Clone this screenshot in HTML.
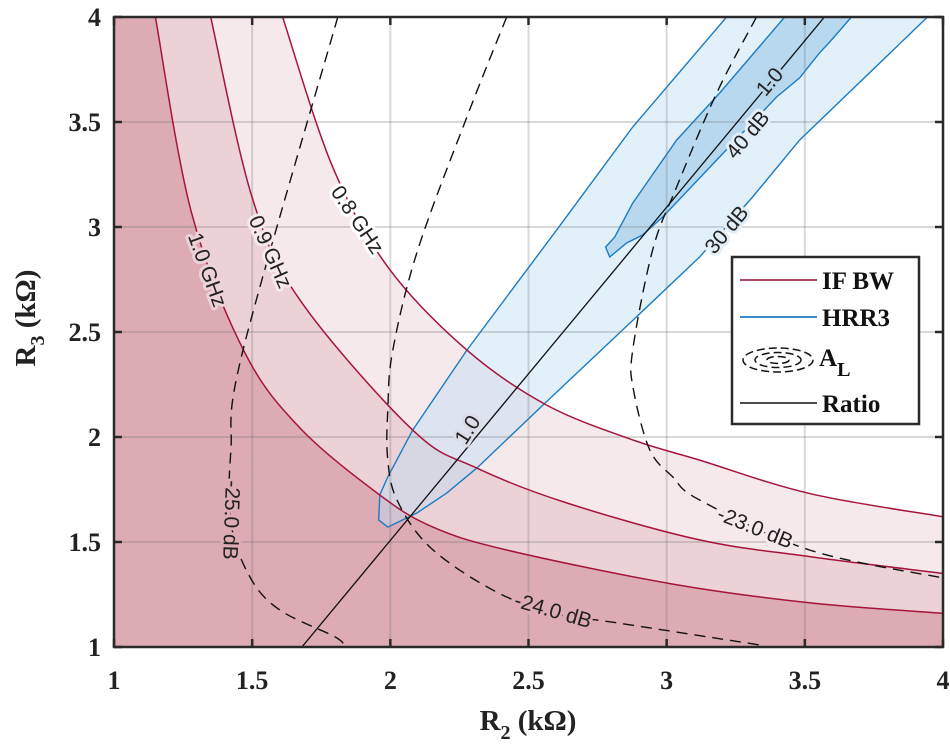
<!DOCTYPE html>
<html><head><meta charset="utf-8"><style>
body{margin:0;background:#fff;}
svg{display:block;}
.tk{font-family:"Liberation Serif",serif;font-weight:bold;font-size:26px;fill:#222;}
.cl{font-family:"Liberation Sans",sans-serif;font-size:21px;fill:#222;paint-order:stroke;stroke-width:6px;stroke-linejoin:round;}
.lg{font-family:"Liberation Serif",serif;font-weight:bold;font-size:25px;fill:#111;}
</style></head><body>
<svg id="chart" width="950" height="755" viewBox="0 0 950 755" xmlns="http://www.w3.org/2000/svg">
<defs><clipPath id="clip"><rect x="114" y="17" width="829" height="630"/></clipPath></defs>
<g id="plot" clip-path="url(#clip)"></g>
<g id="overlay"></g>
</svg>
<script>
// ---- data (R2, R3 in kOhm) ----
const xTicks = [1, 1.5, 2, 2.5, 3, 3.5, 4];
const yTicks = [1, 1.5, 2, 2.5, 3, 3.5, 4];
const ifbw10 = [[1.15,4.0],[1.28,3.07],[1.47,2.41],[1.673,2.043],[1.962,1.724],[2.154,1.571],[2.421,1.462],[3.02,1.30],[3.52,1.21],[4.0,1.16]];
const ifbw09 = [[1.35,4.0],[1.50,3.14],[1.673,2.652],[2.081,2.033],[2.313,1.852],[2.638,1.686],[3.119,1.51],[3.52,1.43],[4.0,1.35]];
const ifbw08 = [[1.61,4.0],[1.79,3.29],[1.991,2.81],[2.277,2.414],[2.566,2.152],[2.877,1.986],[3.119,1.89],[3.52,1.73],[4.0,1.62]];
const hrr30Left = [[1.958,1.605],[1.962,1.724],[1.991,1.81],[2.081,2.033],[2.277,2.414],[2.602,2.986],[2.877,3.476],[3.217,4.0]];
const hrr30Right = [[3.944,4.0],[3.481,3.414],[3.311,3.143],[3.119,2.857],[2.841,2.51],[2.552,2.152],[2.313,1.852],[2.204,1.733],[2.096,1.638],[1.991,1.571]];
const hrr40 = [[2.794,2.857],[2.779,2.905],[2.812,2.952],[2.877,3.114],[3.036,3.414],[3.192,3.638],[3.427,4.0],[3.669,4.0],[3.590,3.881],[3.553,3.829],[3.481,3.710],[3.398,3.619],[3.181,3.319],[2.986,3.048],[2.913,2.962],[2.855,2.924]];
const ratioLine = [[1.68,1.0],[3.571,4.0]];
const al25 = [[1.81,4.0],[1.467,2.414],[1.423,1.938],[1.423,1.59],[1.492,1.333],[1.60,1.176],[1.80,1.048],[1.835,1.0]];
const al24 = [[2.421,4.0],[2.277,3.524],[2.099,2.89],[2.009,2.414],[1.991,2.129],[1.99,1.9],[2.024,1.70],[2.143,1.476],[2.371,1.271],[2.588,1.162],[2.826,1.114],[3.336,1.01]];
const al23 = [[3.325,4.0],[3.181,3.638],[3.036,3.19],[2.949,2.89],[2.877,2.414],[2.88,2.224],[2.939,1.938],[3.022,1.81],[3.119,1.70],[3.517,1.462],[3.998,1.329]];

// ---- axes ----
const X0=114, X1=943, Y0=647, Y1=17;
const sx = v => X0 + (v-1)/(4-1)*(X1-X0);
const sy = v => Y0 - (v-1)/(4-1)*(Y0-Y1);
const NS="http://www.w3.org/2000/svg";
const plot=document.getElementById('plot'), ov=document.getElementById('overlay');
function mk(tag, attrs, parent){const e=document.createElementNS(NS,tag);for(const k in attrs)e.setAttribute(k,attrs[k]);parent.appendChild(e);return e;}
function pts(arr){return arr.map(p=>[sx(p[0]),sy(p[1])]);}
function smooth(arr){
  const p=pts(arr); let d='M'+p[0][0].toFixed(1)+','+p[0][1].toFixed(1);
  for(let i=0;i<p.length-1;i++){
    const a=p[Math.max(0,i-1)],b=p[i],c=p[i+1],e=p[Math.min(p.length-1,i+2)];
    const c1=[b[0]+(c[0]-a[0])/6,b[1]+(c[1]-a[1])/6], c2=[c[0]-(e[0]-b[0])/6,c[1]-(e[1]-b[1])/6];
    d+=' C'+c1.map(v=>v.toFixed(1)).join(',')+' '+c2.map(v=>v.toFixed(1)).join(',')+' '+c[0].toFixed(1)+','+c[1].toFixed(1);
  }
  return d;
}
function poly(arr){return pts(arr).map(p=>p[0].toFixed(1)+','+p[1].toFixed(1)).join(' ');}

let e;
e=mk('rect',{x:X0,y:Y1,width:X1-X0,height:Y0-Y1,fill:'#fff'},plot);


const corner=' L'+sx(4)+','+sy(1)+' L'+sx(1)+','+sy(1)+' L'+sx(1)+','+sy(4)+' Z';
e=mk('path',{d:smooth(ifbw08)+corner,fill:'#f6e9eb'},plot);


e=mk('path',{d:smooth(ifbw09)+corner,fill:'#ecd1d7'},plot);


e=mk('path',{d:smooth(ifbw10)+corner,fill:'#dcabb4'},plot);


e=mk('polygon',{points:poly(hrr30Left.concat(hrr30Right)),fill:'rgba(190,222,244,0.45)',stroke:'#1a7cc4','stroke-width':1.4},plot);


e=mk('polygon',{points:poly(hrr40),fill:'rgba(120,180,220,0.4)',stroke:'#1a7cc4','stroke-width':1.4},plot);


xTicks.forEach(v=>{const g=mk('line',{x1:sx(v),x2:sx(v),y1:Y0,y2:Y1,stroke:'rgba(120,120,120,0.28)','stroke-width':2},plot);

});
yTicks.forEach(v=>{const g=mk('line',{x1:X0,x2:X1,y1:sy(v),y2:sy(v),stroke:'rgba(120,120,120,0.28)','stroke-width':2},plot);

});
[[ifbw10,'1.0'],[ifbw09,'0.9'],[ifbw08,'0.8']].forEach(([a,n])=>{
  const l=mk('path',{d:smooth(a),fill:'none',stroke:'#a5153a','stroke-width':1.5},plot);
  
  
});
[[al25,'25'],[al24,'24'],[al23,'23']].forEach(([a,n])=>{
  const l=mk('path',{d:smooth(a),fill:'none',stroke:'#111','stroke-width':1.4,'stroke-dasharray':'11,7'},plot);
  
  
});
e=mk('line',{x1:sx(ratioLine[0][0]),y1:sy(ratioLine[0][1]),x2:sx(ratioLine[1][0]),y2:sy(ratioLine[1][1]),stroke:'#111','stroke-width':1.3},plot);



function lab(txt,x,y,rot,bg,name){
  const t=mk('text',{x:0,y:0,transform:`translate(${x},${y}) rotate(${rot})`,'text-anchor':'middle','dominant-baseline':'central',class:'cl',stroke:bg},plot);
  t.textContent=txt;
  
  
}
lab('1.0 GHz',207,270,70,'#ecd1d7','label-1ghz');
lab('0.9 GHz',270,252,66,'#f6e9eb','label-0.9ghz');
lab('0.8 GHz',357,220,56,'#fff','label-0.8ghz');
lab('-25.0 dB',231,520,92,'#dcabb4','label-25db');
lab('-24.0 dB',553,611,16,'#dcabb4','label-24db');
lab('-23.0 dB',755,528,22,'#f6e9eb','label-23db');
lab('1.0',468,430,-58,'#dcdbe6','label-ratio-1');
lab('1.0',770,82,-50,'#b7d6eb','label-ratio-2');
lab('40 dB',748,135,-50,'#e1eef7','label-40db');
lab('30 dB',727,230,-50,'#e1eef7','label-30db');

e=mk('rect',{x:X0,y:Y1,width:X1-X0,height:Y0-Y1,fill:'none',stroke:'#2a2a2a','stroke-width':2.5},ov);


xTicks.forEach(v=>{
  let t=mk('line',{x1:sx(v),x2:sx(v),y1:Y0,y2:Y0-8,stroke:'#2a2a2a','stroke-width':2.5},ov);
  
  
  t=mk('line',{x1:sx(v),x2:sx(v),y1:Y1,y2:Y1+8,stroke:'#2a2a2a','stroke-width':2.5},ov);
  
  
  const l=mk('text',{x:sx(v),y:689,'text-anchor':'middle',class:'tk'},ov);
  l.textContent=String(v);
  
  
});
yTicks.forEach(v=>{
  let t=mk('line',{x1:X0,x2:X0+8,y1:sy(v),y2:sy(v),stroke:'#2a2a2a','stroke-width':2.5},ov);
  
  
  t=mk('line',{x1:X1,x2:X1-8,y1:sy(v),y2:sy(v),stroke:'#2a2a2a','stroke-width':2.5},ov);
  
  
  const l=mk('text',{x:101,y:sy(v)+9,'text-anchor':'end',class:'tk'},ov);
  l.textContent=String(v);
  
  
});
</script>
<svg style="position:absolute;left:0;top:0" width="950" height="755">
<text x="528" y="730" text-anchor="middle" font-family="Liberation Serif, serif" font-weight="bold" font-size="29" fill="#222">R<tspan font-size="20" dy="9">2</tspan><tspan dy="-9"> (kΩ)</tspan></text>
<text transform="translate(35,318) rotate(-90)" text-anchor="middle" font-family="Liberation Serif, serif" font-weight="bold" font-size="29" fill="#222">R<tspan font-size="20" dy="9">3</tspan><tspan dy="-9"> (kΩ)</tspan></text>
<g>
<rect x="732" y="257" width="187" height="167" fill="#fff" stroke="#2a2a2a" stroke-width="2.5"/>
<line x1="740" y1="280" x2="817" y2="280" stroke="#b04a62" stroke-width="2"/>
<text class="lg" x="822" y="289">IF BW</text>
<line x1="740" y1="317" x2="817" y2="317" stroke="#3a8ccc" stroke-width="2"/>
<text class="lg" x="822" y="326">HRR3</text>
<g fill="none" stroke="#111" stroke-width="1.5" stroke-dasharray="8,4">
<ellipse cx="778" cy="360" rx="35" ry="12"/><ellipse cx="778" cy="360" rx="23" ry="7.5"/><ellipse cx="778" cy="360" rx="11" ry="3.5"/></g>
<text class="lg" x="819" y="366">A<tspan font-size="20" dy="10">L</tspan></text>
<line x1="740" y1="403" x2="817" y2="403" stroke="#111" stroke-width="1.5"/>
<text class="lg" x="822" y="412">Ratio</text>
</g>
</svg>
</body></html>
